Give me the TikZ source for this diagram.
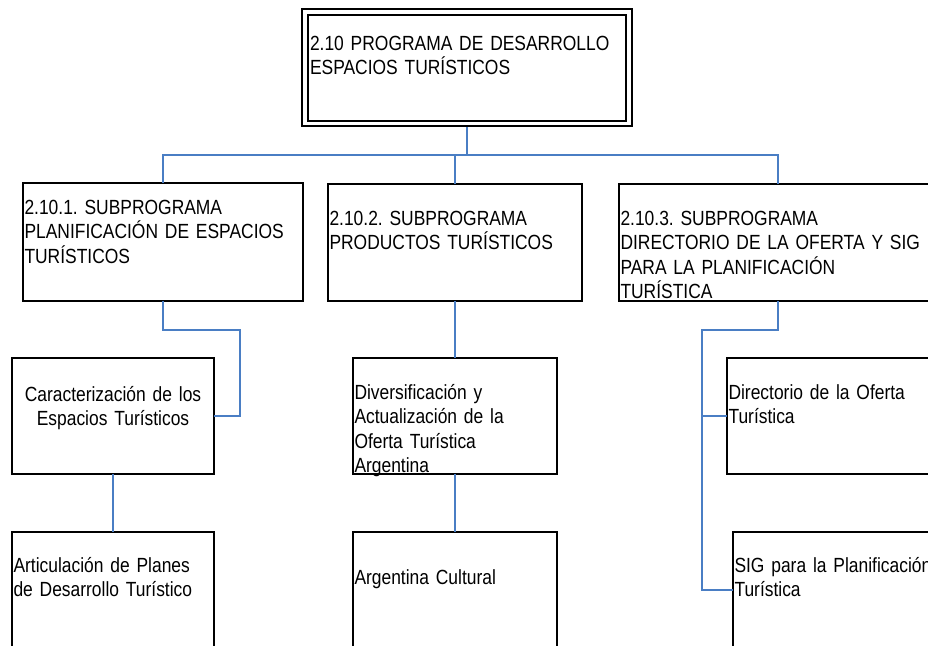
\documentclass[tikz,border=0pt]{standalone}
\usepackage{fontspec}
\setmainfont{Liberation Sans}[FakeStretch=0.85, WordSpace=0.85]
\frenchspacing
\usetikzlibrary{positioning}
\definecolor{linkblue}{RGB}{74,126,196}

\begin{document}
\begin{tikzpicture}[
    x=1pt, y=-1pt,
    node distance=57pt,
    every node/.style={font=\fontsize{20.5}{24.5}\selectfont, inner xsep=1.5pt, inner ysep=0pt, outer sep=0pt},
    orgbox/.style={draw=black, line width=1.5pt, align=left, anchor=north west},
    program/.style={orgbox, anchor=center, double, line width=1.8pt, double distance=3.5pt, outer sep=3.6pt, inner xsep=5pt, text width=314pt, text height=38pt, text depth=73.5pt},
    subprog/.style={orgbox, text height=41pt, text depth=76pt},
    task/.style={orgbox, text width=201pt, text height=41pt, text depth=75pt}
]
\useasboundingbox (0,0) rectangle (928,645);
\clip (0,0) rectangle (928,645);
\tikzset{link/.style={draw=linkblue, line width=1.3pt}}

% Nodes
\node[program] (prog) at (467,67.75) {2.10 PROGRAMA DE DESARROLLO\\ESPACIOS TURÍSTICOS};

% Subprograms
\node[subprog, text width=277pt, text height=31pt, text depth=87pt] (sub1) at (23,183) {2.10.1. SUBPROGRAMA\\PLANIFICACIÓN DE ESPACIOS\\TURÍSTICOS};
\node[subprog, text width=251pt] (sub2) at (328,184) {2.10.2. SUBPROGRAMA\\PRODUCTOS TURÍSTICOS};
\node[subprog, text width=315pt] (sub3) at (619,184) {2.10.3. SUBPROGRAMA\\DIRECTORIO DE LA OFERTA Y SIG\\PARA LA PLANIFICACIÓN\\TURÍSTICA};

% Left branch
\node[task, align=center, text width=199pt, text height=43pt, text depth=73pt] (car) at (12,358) {Caracterización de los\\Espacios Turísticos};
\node[task, text width=199pt, text height=40pt, text depth=76pt, below=58pt of car] (art) {Articulación de Planes\\de Desarrollo Turístico};

% Middle branch
\node[task, below=of sub2] (div) {Diversificación y\\Actualización de la\\Oferta Turística\\Argentina};
\node[task, text height=52pt, text depth=64pt, below=58pt of div] (arg) {Argentina Cultural};

% Right branch
\node[task] (dir) at (727,358) {Directorio de la Oferta\\Turística};
\node[task, text height=40pt, text depth=76pt] (sig) at (733,532) {SIG para la Planificación\\Turística};

% Bends
\coordinate (bus) at (467,155);
\coordinate (elbow1) at (240,330);
\coordinate (elbow3) at (702,330);

% Edges
\draw[link] (prog.south) |- (bus -| sub1.north) -- (sub1.north);
\draw[link] (prog.south) |- (bus -| sub2.north) -- (sub2.north);
\draw[link] (prog.south) |- (bus -| sub3.north) -- (sub3.north);

\draw[link] (sub1.south) |- (elbow1) |- (car.east);
\draw[link] (car) -- (art);

\draw[link] (sub2) -- (div);
\draw[link] (div) -- (arg);

\draw[link] (sub3.south) |- (elbow3) |- (sig.west);
\draw[link] (elbow3) |- (dir.west);

\end{tikzpicture}
\end{document}
